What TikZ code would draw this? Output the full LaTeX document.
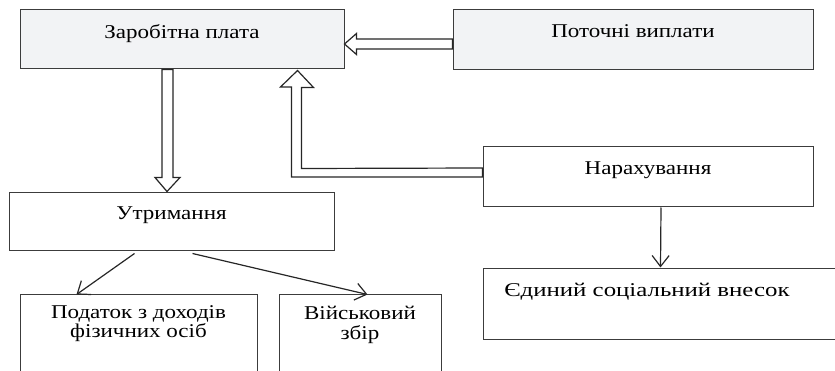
\documentclass[tikz,border=0pt]{standalone}
\usepackage{fontspec}
\setmainfont{Liberation Serif}[FakeStretch=1.18]
\usetikzlibrary{arrows.meta,calc}
\definecolor{boxgray}{RGB}{242,243,245}
\definecolor{edge}{RGB}{60,60,60}
\begin{document}
\begin{tikzpicture}[x=1pt,y=-1pt,
  box/.style={draw=edge, line width=1pt, inner sep=0pt},
  lbl/.style={anchor=base, inner sep=0pt, font=\fontsize{19.5}{20}\selectfont},
  hollow/.style={draw=black!85, line width=1.2pt, fill=white, line join=miter},
  thinarrow/.style={draw=black!85, line width=1.2pt, -{Straight Barb[length=11pt,width=17pt,line width=1.2pt]}}]
\useasboundingbox (0,0) rectangle (835,371);
\clip (0,0) rectangle (835,371);
% boxes
\node[box, fill=boxgray, minimum width=324pt, minimum height=59pt] (zp) at (182,39.5) {};
\node[box, fill=boxgray, minimum width=360pt, minimum height=60pt] (pv) at (633,40) {};
\node[box, fill=white, minimum width=330pt, minimum height=60pt] (nar) at (648,177) {};
\node[box, fill=white, minimum width=325pt, minimum height=58pt] (ut) at (171.5,222) {};
\node[box, fill=white, minimum width=377pt, minimum height=70pt] (esv) at (671.5,304) {};
\node[box, fill=white, minimum width=237pt, minimum height=105pt] (pod) at (138.5,347.5) {};
\node[box, fill=white, minimum width=162pt, minimum height=105pt] (vz) at (360,347.5) {};
% texts
\node[lbl] (zpT) at (182,39) {Заробітна плата};
\node[lbl] (pvT) at (633,38) {Поточні виплати};
\node[lbl] (narT) at (648,175) {Нарахування};
\node[lbl] (utT) at (171.5,220) {Утримання};
\node[lbl] (esvT) at (647,297) {\scalebox{1.08}[1]{Єдиний соціальний внесок}};
\node[lbl] (podT1) at (138.5,318) {Податок з доходів};
\node[lbl] (podT2) at (138.5,337.5) {фізичних осіб};
\node[lbl] (vzT1) at (360,319.5) {Військовий};
\node[lbl] (vzT2) at (360,339.5) {збір};
% hollow arrows
\draw[hollow] ($(zp.east)+(0,4.5)$) -- ++(12,-10.5) -- ++(0,5.5)
  -- ($(pv.west)+(0,-1)$) -- ++(0,10) -- ($(zp.east)+(12,9.5)$) -- ++(0,5.5) -- cycle;
\draw[hollow] ($(zp.south)+(-20,0)$) -- ++(11,0) -- ($(ut.north)+(1.5,-15)$) -- ++(7,0)
  -- ($(ut.north)+(-4.5,-1)$) -- ++(-12,-14) -- ++(7,0) -- cycle;
\draw[hollow] ($(zp.south east)+(-47,1)$) -- ++(16,17) -- ++(-12,0) -- ++(0,81)
  -- ($(nar.west)+(0,-9)$) -- ++(0,9) -- ++(-191,0) -- ++(0,-90) -- ++(-11,0) -- cycle;
% line arrows
\draw[thinarrow] ($(ut.south west)+(126,2)$) -- ($(pod.north west)+(57,0)$);
\draw[thinarrow] ($(ut.south west)+(184,2)$) -- ($(vz.north west)+(89,0)$);
\draw[thinarrow] ($(nar.south)+(13,0)$) -- ($(esv.north west)+(178,-1)$);
\end{tikzpicture}
\end{document}
